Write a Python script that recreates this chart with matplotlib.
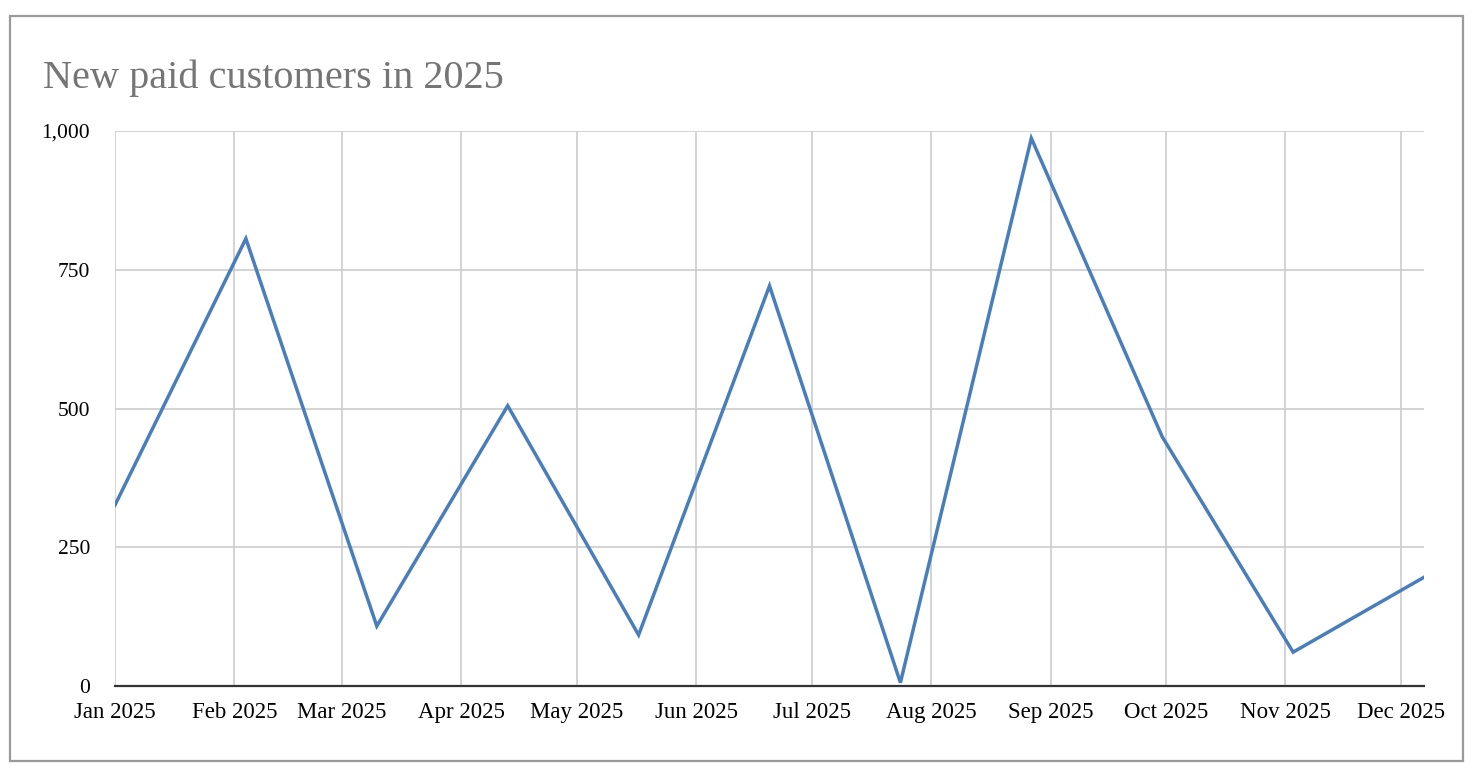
import numpy as np
import matplotlib
matplotlib.use("Agg")
import matplotlib.pyplot as plt
import matplotlib.dates as mdates
from matplotlib.patches import Rectangle
from matplotlib.ticker import FuncFormatter

dates = np.array([
    "2025-01-01", "2025-02-04", "2025-03-10", "2025-04-13",
    "2025-05-17", "2025-06-20", "2025-07-24", "2025-08-27",
    "2025-09-30", "2025-11-03", "2025-12-07",
], dtype="datetime64[D]")
customers = [326, 806, 108, 505, 92, 721, 6, 987, 449, 61, 196]

title = "New paid customers in 2025"
y_ticks = [0, 250, 500, 750, 1000]

plt.rcParams["font.family"] = ["Liberation Serif", "DejaVu Serif"]

fig = plt.figure(figsize=(14.76, 7.72), dpi=100)
ax = fig.add_axes([0.0779, 0.1114, 0.8869, 0.7189])

# outer frame of the chart
fig.patches.append(Rectangle((10 / 1476, 11 / 772), 1453 / 1476, 745 / 772,
                             transform=fig.transFigure, fill=False,
                             edgecolor="#9a9a9a", linewidth=1.6))

ax.plot(dates, customers, color="#4a7ebb", linewidth=2.5,
        solid_joinstyle="miter", zorder=3)

ax.set_xlim(dates[0], dates[-1])
ax.set_ylim(0, 1000)
ax.set_yticks(y_ticks)
ax.yaxis.set_major_formatter(FuncFormatter(lambda v, p: f"{int(v):,}"))
ax.xaxis.set_major_locator(mdates.MonthLocator())
ax.xaxis.set_major_formatter(mdates.DateFormatter("%b %Y"))

ax.grid(True, color="#cccccc", linewidth=1.2)
ax.set_axisbelow(True)
for side in ["top", "right", "left"]:
    ax.spines[side].set_visible(False)
ax.spines["bottom"].set_color("#333333")
ax.spines["bottom"].set_linewidth(1.6)
ax.spines["bottom"].set_zorder(4)

ax.tick_params(axis="both", length=0, colors="black")
ax.tick_params(axis="y", pad=18, labelsize=15.5)
ax.tick_params(axis="x", pad=11.5, labelsize=16.5)

fig.text(43 / 1476, 1 - 88 / 772, title, fontsize=29, color="#757575",
         ha="left", va="baseline")

fig.savefig("out.png", dpi=100)
